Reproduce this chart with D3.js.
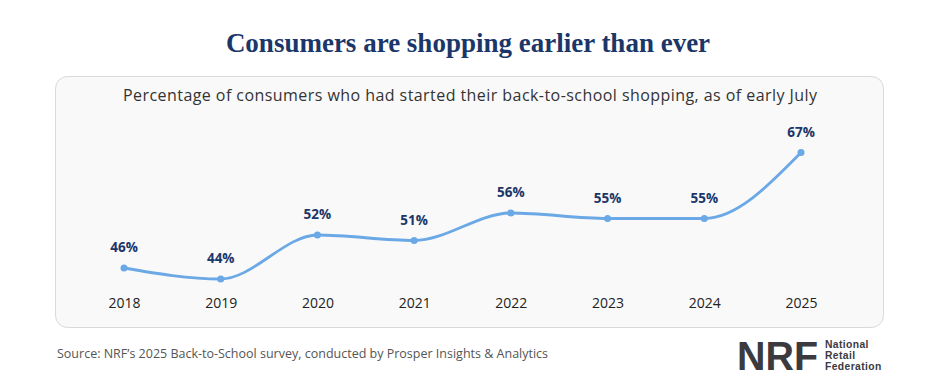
<!DOCTYPE html>
<html>
<head>
<meta charset="utf-8">
<script src="https://cdn.jsdelivr.net/npm/d3@7"></script>
<style>
  body { margin: 0; background: #fff; }
  svg { display: block; }
</style>
</head>
<body>
<svg id="chart"></svg>
<script>
// data
var years = ["2018", "2019", "2020", "2021", "2022", "2023", "2024", "2025"];
var shares = [46, 44, 52, 51, 56, 55, 55, 67];

var width = 933;
var height = 387;

var svg = d3.select("#chart")
    .attr("width", width)
    .attr("height", height);

// title
svg.append("text")
    .attr("x", 468)
    .attr("y", 52)
    .attr("text-anchor", "middle")
    .style("font-family", "'Liberation Serif', serif")
    .style("font-weight", "bold")
    .style("font-size", "27px")
    .style("fill", "#1b3668")
    .text("Consumers are shopping earlier than ever");

// panel
svg.append("rect")
    .attr("x", 55.5)
    .attr("y", 76.5)
    .attr("width", 828)
    .attr("height", 251)
    .attr("rx", 12)
    .style("fill", "#f9f9f9")
    .style("stroke", "#d9d9d9");

svg.append("text")
    .attr("x", 470)
    .attr("y", 101)
    .attr("text-anchor", "middle")
    .style("font-family", "'Open Sans', sans-serif")
    .style("font-size", "16px")
    .style("fill", "#333")
    .attr("textLength", 694)
    .attr("lengthAdjust", "spacing")
    .text("Percentage of consumers who had started their back-to-school shopping, as of early July");

// scales
var x = d3.scalePoint()
    .domain(years)
    .range([124, 801]);

var y = d3.scaleLinear()
    .domain([44, 67])
    .range([279, 152.5]);

// x axis (labels only)
var xAxis = svg.append("g")
    .attr("transform", "translate(0,298)")
    .call(d3.axisBottom(x).tickSize(0).tickPadding(0));
xAxis.select(".domain").remove();
xAxis.selectAll("text")
    .attr("dy", "0.71em")
    .style("font-family", "'Open Sans', sans-serif")
    .style("font-size", "14px")
    .style("font-weight", "500")
    .style("fill", "#222");

// line
var line = d3.line()
    .x((d, i) => x(years[i]))
    .y(d => y(d))
    .curve(d3.curveMonotoneX);

svg.append("path")
    .datum(shares)
    .attr("d", line)
    .style("fill", "none")
    .style("stroke", "#6aa8e6")
    .style("stroke-width", 2.8);

svg.selectAll(".dot")
    .data(shares)
    .enter().append("circle")
    .attr("class", "dot")
    .attr("cx", (d, i) => x(years[i]))
    .attr("cy", d => y(d))
    .attr("r", 3.5)
    .style("fill", "#6aa8e6");

svg.selectAll(".val")
    .data(shares)
    .enter().append("text")
    .attr("class", "val")
    .attr("x", (d, i) => x(years[i]))
    .attr("y", d => y(d) - 16)
    .attr("text-anchor", "middle")
    .style("font-family", "'Open Sans', sans-serif")
    .style("font-weight", "bold")
    .style("font-size", "13.5px")
    .style("fill", "#1b3668")
    .text(d => d + "%");

// source
svg.append("text")
    .attr("x", 57)
    .attr("y", 358)
    .style("font-family", "'Open Sans', sans-serif")
    .style("font-size", "12.5px")
    .style("fill", "#555")
    .text("Source: NRF\u2019s 2025 Back-to-School survey, conducted by Prosper Insights & Analytics");

// NRF logo
svg.append("text")
    .attr("x", 737)
    .attr("y", 370)
    .style("font-family", "'Liberation Sans', sans-serif")
    .style("font-weight", "bold")
    .style("font-size", "40px")
    .style("fill", "#3a3a3f")
    .attr("textLength", 81)
    .attr("lengthAdjust", "spacingAndGlyphs")
    .text("NRF");

var logoLines = ["National", "Retail", "Federation"];
svg.selectAll(".logo")
    .data(logoLines)
    .enter().append("text")
    .attr("class", "logo")
    .attr("x", 825)
    .attr("y", (d, i) => 348 + i * 11.2)
    .style("font-family", "'Liberation Sans', sans-serif")
    .style("font-weight", "bold")
    .style("font-size", "10.3px")
    .style("letter-spacing", "0.4px")
    .style("fill", "#3a3a3f")
    .text(d => d);
</script>
</body>
</html>
